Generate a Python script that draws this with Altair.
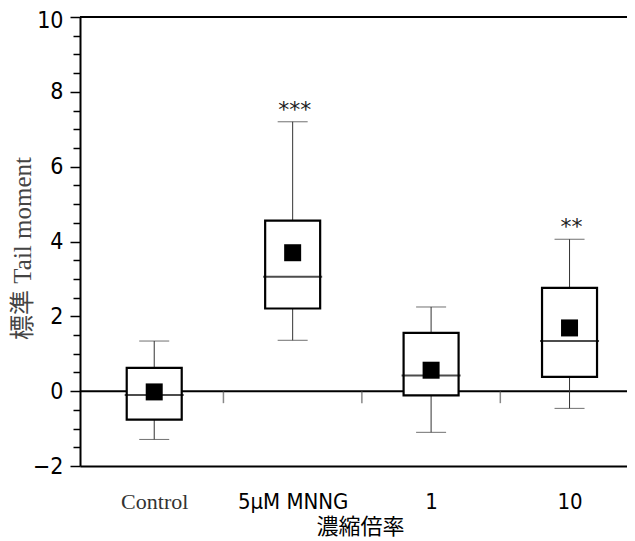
import json
import altair as alt
import pandas as pd

categories = ["Control", "5µM MNNG", "1", "10"]
positions = [0, 1, 2, 3]
whisker_low = [-1.29, 1.36, -1.10, -0.46]
q1 = [-0.76, 2.21, -0.11, 0.38]
median = [-0.10, 3.06, 0.42, 1.34]
q3 = [0.62, 4.56, 1.56, 2.76]
whisker_high = [1.34, 7.20, 2.25, 4.06]
mean = [-0.02, 3.70, 0.56, 1.69]
significance = ["", "***", "", "**"]
separators = [0.5, 1.5, 2.5]
y_tick_values = [-2, -1.5, -1, -0.5, 0, 0.5, 1, 1.5, 2, 2.5, 3, 3.5, 4,
                 4.5, 5, 5.5, 6, 6.5, 7, 7.5, 8, 8.5, 9, 9.5, 10]

df = pd.DataFrame({
    "pos": positions, "cat": categories, "lo": whisker_low, "q1": q1,
    "med": median, "q3": q3, "hi": whisker_high, "mean": mean,
    "sig": significance,
})
sep_df = pd.DataFrame({"pos": separators, "v": [0] * len(separators)})
zero_df = pd.DataFrame({"v": [0]})
top_df = pd.DataFrame({"v": [10]})

NARROW = "DejaVu Sans Condensed, Liberation Sans Narrow, sans-serif"
SERIF = "Liberation Serif, Noto Sans CJK JP, serif"

x_scale = alt.Scale(domain=[-0.5, 3.379], nice=False, zero=False)
y_scale = alt.Scale(domain=[-2, 10], nice=False, zero=False)

x_axis = alt.Axis(
    values=positions,
    labelExpr=json.dumps(categories) + "[datum.value]",
    ticks=False, tickSize=0, grid=False,
    domainColor="black", domainWidth=2,
    labelFont=alt.condition("datum.value == 0", alt.value(SERIF), alt.value(NARROW)),
    labelColor=alt.condition("datum.value == 0", alt.value("#333333"), alt.value("black")),
    labelFontSize=22, labelPadding=25,
    title="濃縮倍率", titleFont="Noto Sans CJK JP", titleFontSize=22,
    titleFontWeight="normal", titleColor="black",
    titleX=280, titleY=60, titleBaseline="middle",
)
y_axis = alt.Axis(
    values=y_tick_values,
    labelExpr="datum.value % 2 == 0 ? replace(format(datum.value, 'd'), '-', '−') : ''",
    tickSize=alt.condition("datum.value % 2 == 0", alt.value(10), alt.value(7)),
    tickColor="black", tickWidth=1.5, grid=False,
    domainColor="black", domainWidth=2,
    labelFont=NARROW, labelFontSize=23, labelColor="black", labelPadding=7,
    labelOffset=alt.condition("datum.value == 10", alt.value(3), alt.value(0)),
    title="標準 Tail moment", titleFont=SERIF, titleFontSize=25,
    titleFontWeight="normal", titleColor="#444444",
    titleX=-58, titleY=231, titleBaseline="middle",
)


def X(field):
    return alt.X(f"{field}:Q", scale=x_scale, axis=x_axis)


def Y(field):
    return alt.Y(f"{field}:Q", scale=y_scale, axis=y_axis)


top_rule = alt.Chart(top_df).mark_rule(color="black", strokeWidth=2).encode(y=Y("v"))
zero_rule = alt.Chart(zero_df).mark_rule(color="black", strokeWidth=2).encode(y=Y("v"))
sep_ticks = alt.Chart(sep_df).mark_tick(
    orient="vertical", size=12, yOffset=6, thickness=1.5, color="#555555"
).encode(x=X("pos"), y=Y("v"))

base = alt.Chart(df)
whisk_hi = base.mark_rule(color="#333333", strokeWidth=1).encode(
    x=X("pos"), y=Y("q3"), y2="hi")
whisk_lo = base.mark_rule(color="#333333", strokeWidth=1).encode(
    x=X("pos"), y=Y("lo"), y2="q1")
cap_hi = base.mark_tick(orient="horizontal", size=30, thickness=1, color="#333333").encode(
    x=X("pos"), y=Y("hi"))
cap_lo = base.mark_tick(orient="horizontal", size=30, thickness=1, color="#333333").encode(
    x=X("pos"), y=Y("lo"))
boxes = base.mark_bar(fill="white", stroke="black", strokeWidth=2.2, size=55).encode(
    x=X("pos"), y=Y("q1"), y2="q3")
medians = base.mark_tick(orient="horizontal", size=59, thickness=2, color="black").encode(
    x=X("pos"), y=Y("med"))
means = base.mark_square(size=289, color="black", opacity=1, filled=True).encode(
    x=X("pos"), y=Y("mean"))
stars = base.mark_text(dy=-12, dx=2, fontSize=22, font="DejaVu Sans", color="#222222").encode(
    x=X("pos"), y=Y("hi"), text="sig:N")

chart = alt.layer(
    top_rule, zero_rule, sep_ticks, whisk_hi, whisk_lo, cap_hi, cap_lo,
    boxes, medians, means, stars
).properties(
    width=547, height=449,
    autosize=alt.AutoSizeParams(type="none"),
    padding={"left": 72, "top": 9, "right": 0, "bottom": 72},
).configure_view(stroke=None)

chart.save("out.html", embed_options={"renderer": "svg", "actions": False})
